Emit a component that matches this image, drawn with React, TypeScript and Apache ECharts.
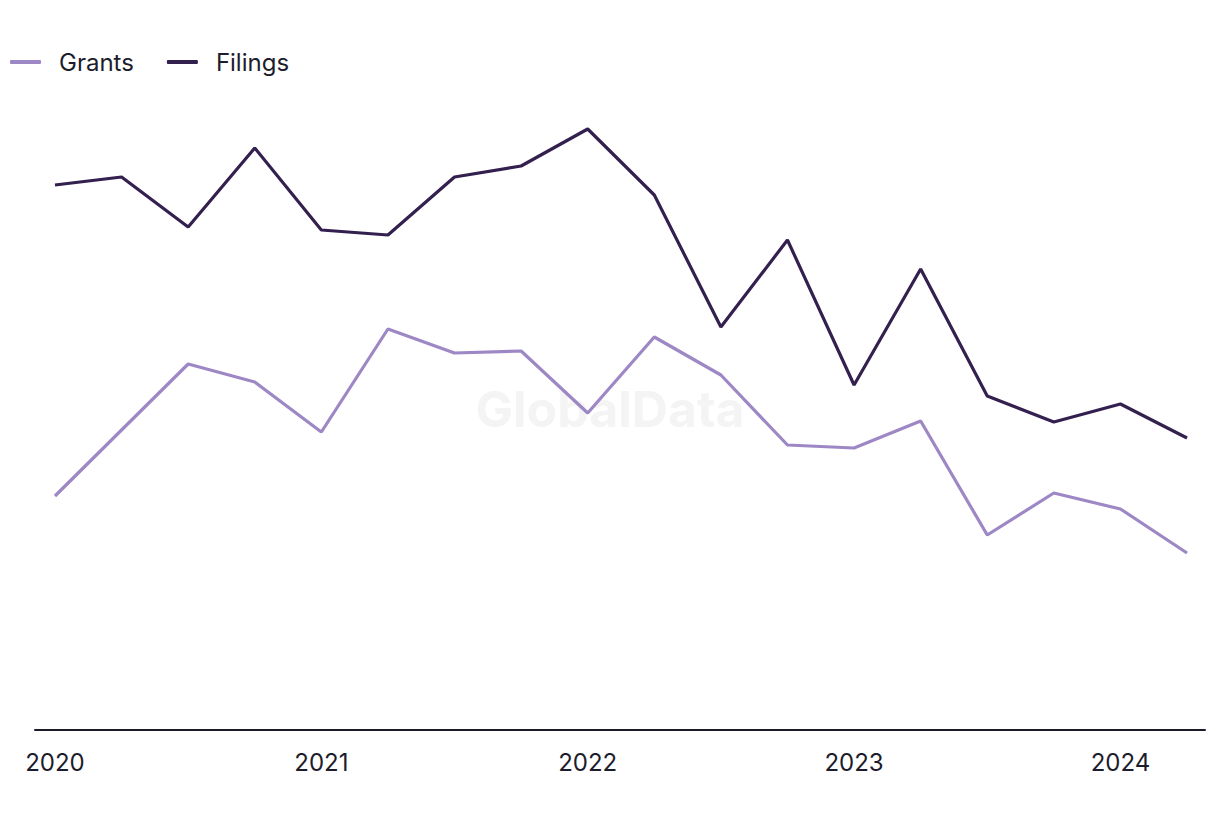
import React, { useEffect, useRef } from "react";
import * as echarts from "echarts";

const quarters = [
  "2020 Q1", "2020 Q2", "2020 Q3", "2020 Q4",
  "2021 Q1", "2021 Q2", "2021 Q3", "2021 Q4",
  "2022 Q1", "2022 Q2", "2022 Q3", "2022 Q4",
  "2023 Q1", "2023 Q2", "2023 Q3", "2023 Q4",
  "2024 Q1", "2024 Q2",
];
const grants = [46.8, 60, 73.2, 69.6, 59.6, 80.2, 75.4, 75.8, 63.4, 78.6, 71, 57, 56.4, 61.8, 39, 47.4, 44.2, 35.4];
const filings = [109, 110.6, 100.6, 116.4, 100, 99, 110.6, 112.8, 120.2, 107, 80.6, 98, 69, 92.2, 66.8, 61.6, 65.2, 58.4];
const yearTicks = [0, 4, 8, 12, 16];
const yearLabels = ["2020", "2021", "2022", "2023", "2024"];

const FONT = "Inter, 'Noto Sans', sans-serif";

export default function App() {
  const ref = useRef<HTMLDivElement>(null);
  useEffect(() => {
    document.body.style.margin = "0";
    if (!ref.current) return;
    const chart = echarts.init(ref.current, undefined, { renderer: "svg" });
    chart.setOption({
      animation: false,
      backgroundColor: "#ffffff",
      textStyle: { fontFamily: FONT },
      legend: {
        left: 10,
        top: 50,
        padding: 0,
        itemWidth: 31,
        itemHeight: 4,
        itemGap: 33,
        icon: "roundRect",
        textStyle: { fontSize: 24, color: "#1c1c2c", fontFamily: FONT, padding: [0, 0, 0, 13] },
        data: ["Grants", "Filings"],
      },
      graphic: [
        {
          type: "text",
          left: "center",
          top: 384,
          z: 0,
          style: {
            text: "GlobalData",
            fontSize: 50,
            fontWeight: "bold",
            fontFamily: FONT,
            fill: "#f4f4f4",
          },
        },
      ],
      grid: { left: 35, right: 15, top: 80, bottom: 90 },
      xAxis: {
        type: "value",
        min: -0.3,
        max: 17.27,
        splitLine: { show: false },
        axisLine: { show: true, lineStyle: { color: "#1a1a2a", width: 2 } },
        axisTick: { show: false },
        axisLabel: {
          customValues: yearTicks,
          formatter: (v: number) => yearLabels[yearTicks.indexOf(Math.round(v))] ?? "",
          fontSize: 24,
          color: "#1c1c2c",
          margin: 20,
          fontFamily: FONT,
        },
      },
      yAxis: {
        type: "value",
        min: 0,
        max: 130,
        show: false,
        splitLine: { show: false },
      },
      series: [
        {
          name: "Grants",
          type: "line",
          data: grants.map((v, i) => [i, v]),
          symbol: "none",
          lineStyle: { color: "#9d87c4", width: 3.2 },
          itemStyle: { color: "#9d87c4" },
          z: 3,
        },
        {
          name: "Filings",
          type: "line",
          data: filings.map((v, i) => [i, v]),
          symbol: "none",
          lineStyle: { color: "#33204f", width: 3.2 },
          itemStyle: { color: "#33204f" },
          z: 3,
        },
      ],
      tooltip: { show: false },
    });
    void quarters;
    return () => chart.dispose();
  }, []);
  return <div ref={ref} style={{ width: 1220, height: 820 }} />;
}
